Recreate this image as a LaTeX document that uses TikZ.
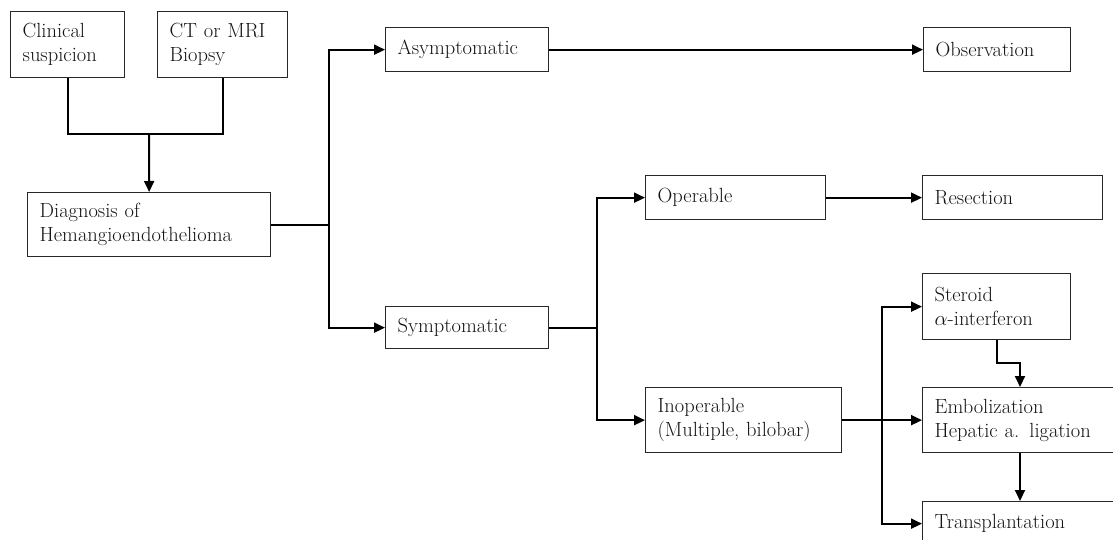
\documentclass[tikz,border=0pt]{standalone}
\usepackage{tikz}
\usetikzlibrary{arrows.meta,positioning}
\definecolor{boxcol}{RGB}{40,40,40}
\definecolor{txtcol}{RGB}{20,20,20}
\tikzset{
  % flow box: width and height in px, text flush left
  fbox/.style 2 args={rectangle, draw=boxcol, line width=1.3pt, anchor=north west,
               minimum width=#1pt, minimum height=#2pt, text width=#1pt-24pt,
               inner xsep=12pt, inner ysep=2pt, align=left, text=txtcol,
               font=\fontsize{20.5}{24}\selectfont},
  % plain connector
  link/.style={line width=2pt, black},
  % connector ending in an arrow
  arrowlink/.style={link, -{Triangle[length=11pt,width=10pt]}},
}
\begin{document}
\begin{tikzpicture}[x=1pt, y=-1pt]
  \useasboundingbox (0,0) rectangle (1113,540);
  \clip (0,0) rectangle (1113,540);
  % boxes
  \node[fbox={114}{66}] (clin) at (10,11) {Clinical\\suspicion};
  \node[fbox={130}{66}] (ct) at (157,11) {CT or MRI\\Biopsy};
  \node[fbox={243}{64}] (diag) at (27,192) {Diagnosis of\\Hemangioendothelioma};
  \node[fbox={163}{44}] (asym) at (385,27) {Asymptomatic};
  \node[fbox={147}{44}] (obs) at (923,27) {Observation};
  \node[fbox={163}{42}] (symp) at (385,306) {Symptomatic};
  \node[fbox={180}{44}] (oper) at (645,175) {Operable};
  \node[fbox={180}{44}] (res) at (922,175) {Resection};
  \node[fbox={196}{65}] (inop) at (645,387) {Inoperable\\(Multiple, bilobar)};
  \node[fbox={148}{66}] (ster) at (922,273) {Steroid\\$\alpha$-interferon};
  \node[fbox={220}{65}] (emb) at (922,387) {Embolization\\Hepatic a. ligation};
  \node[fbox={220}{44}] (trans) at (922,501) {Transplantation};
  % connectors
  \coordinate (merge) at (149,134);
  \draw[link] (clin.south) |- (merge) -| (ct.south);
  \draw[arrowlink] (merge) -- (diag.north);
  \draw[link] (diag.east) -- ++(58,0) coordinate (s1);
  \draw[arrowlink] (s1) |- (asym.west);
  \draw[arrowlink] (s1) |- (symp.west);
  \draw[arrowlink] (asym.east) -- (obs.west);
  \draw[link] (symp.east) -- ++(48,0) coordinate (s2);
  \draw[arrowlink] (s2) |- (oper.west);
  \draw[arrowlink] (s2) |- (inop.west);
  \draw[arrowlink] (oper.east) -- (res.west);
  \draw[arrowlink] (inop.east) -- coordinate[pos=0.5] (s3) (emb.west);
  \draw[arrowlink] (s3) |- (ster.west);
  \draw[arrowlink] (s3) |- (trans.west);
  \draw[arrowlink] (ster.south) -- ++(0,23) -| ([xshift=98pt]emb.north west);
  \draw[arrowlink] ([xshift=98pt]emb.south west) -- ([xshift=98pt]trans.north west);
\end{tikzpicture}
\end{document}
